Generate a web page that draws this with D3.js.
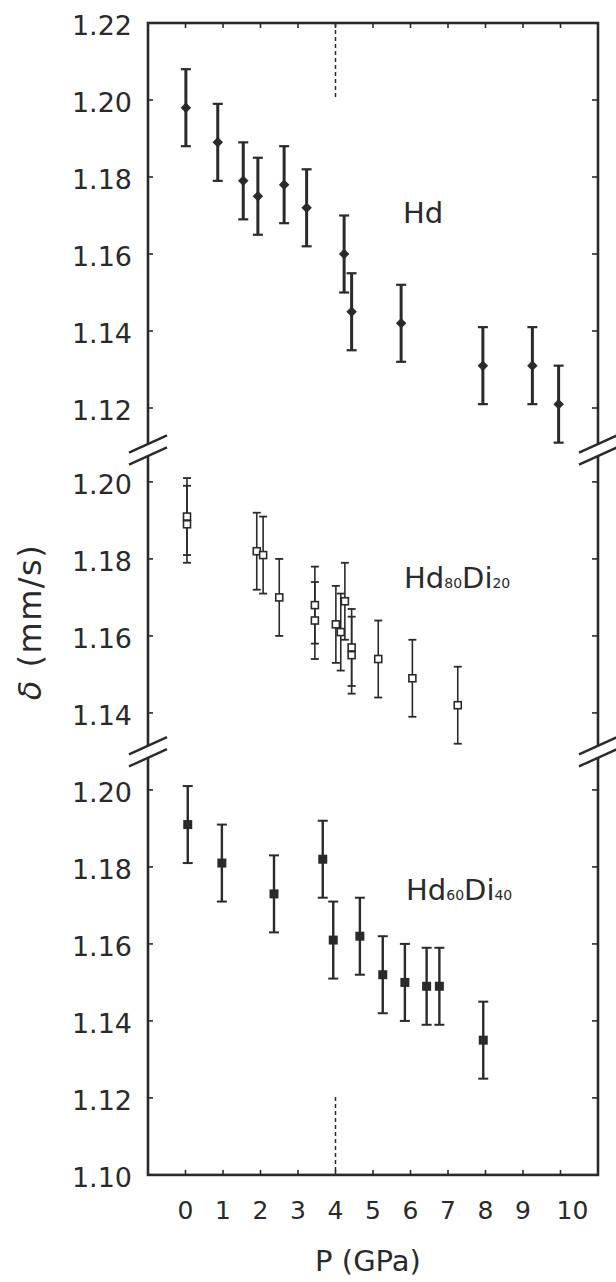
<!DOCTYPE html>
<html>
<head>
<meta charset="utf-8">
<title>delta vs P</title>
<script src="https://cdn.jsdelivr.net/npm/d3@7"></script>
<style>
    body { margin: 0; background: #fff; }
    svg { display: block; }
    text { font-family: "DejaVu Sans", sans-serif; fill: #2a2a2a; }
</style>
</head>
<body>
<svg id="chart" width="616" height="1282"></svg>
<script>

// Hd (filled diamonds)
var hdP = [0.01, 0.86, 1.54, 1.93, 2.63, 3.23, 4.23, 4.43, 5.75, 7.93, 9.25, 9.95],
    hdD = [1.198, 1.189, 1.179, 1.175, 1.178, 1.172, 1.160, 1.145, 1.142, 1.131, 1.131, 1.121];

// Hd80Di20 (open squares)
var mixP = [0.04, 0.04, 1.90, 2.07, 2.50, 3.45, 3.45, 4.01, 4.14, 4.25, 4.43, 4.43, 5.14, 6.05, 7.26],
    mixD = [1.191, 1.189, 1.182, 1.181, 1.170, 1.168, 1.164, 1.163, 1.161, 1.169, 1.157, 1.155, 1.154, 1.149, 1.142];

// Hd60Di40 (filled squares)
var hd60P = [0.06, 0.97, 2.36, 3.66, 3.94, 4.65, 5.26, 5.85, 6.43, 6.77, 7.94],
    hd60D = [1.191, 1.181, 1.173, 1.182, 1.161, 1.162, 1.152, 1.150, 1.149, 1.149, 1.135];

var errHalf = 0.01;

var xTicks = [0, 1, 2, 3, 4, 5, 6, 7, 8, 9, 10],
    topTicks = [1.12, 1.14, 1.16, 1.18, 1.20, 1.22],
    midTicks = [1.14, 1.16, 1.18, 1.20],
    botTicks = [1.10, 1.12, 1.14, 1.16, 1.18, 1.20];

var plotL = 148, plotR = 598, plotT = 23,
    pxPerUnit = 3850,
    ink = '#2a2a2a',
    svg = d3.select('#chart');

var x = d3.scaleLinear().domain([-1, 11]).range([plotL, plotR]);

// three stacked panels with the same vertical scale factor
var panels = [
    {name: 'Hd', domain: [1.1091, 1.22], ticks: topTicks, P: hdP, D: hdD, mark: 'diamond', bar: 3, cap: 10, capW: 2.2},
    {name: 'Hd80Di20', domain: [1.1299, 1.2083], ticks: midTicks, P: mixP, D: mixD, mark: 'open', bar: 1.6, cap: 8, capW: 1.8},
    {name: 'Hd60Di40', domain: [1.10, 1.2099], ticks: botTicks, P: hd60P, D: hd60D, mark: 'square', bar: 2.4, cap: 10, capW: 2}
];

var yAcc = plotT;
panels.forEach(function (p) {
    var h = (p.domain[1] - p.domain[0]) * pxPerUnit;
    p.y = d3.scaleLinear().domain(p.domain).range([yAcc + h, yAcc]);
    p.y0 = yAcc;
    p.y1 = yAcc + h;
    yAcc += h;
});
var plotB = yAcc;

// frame
svg.append('rect')
    .attr('x', plotL).attr('y', plotT)
    .attr('width', plotR - plotL).attr('height', plotB - plotT)
    .attr('fill', 'none').attr('stroke', ink).attr('stroke-width', 2.6);

// x ticks (inward, top and bottom)
var xt = svg.append('g').attr('stroke', ink).attr('stroke-width', 1.6);
xTicks.forEach(function (t) {
    xt.append('line').attr('x1', x(t)).attr('x2', x(t)).attr('y1', plotT).attr('y2', plotT + 5);
    xt.append('line').attr('x1', x(t)).attr('x2', x(t)).attr('y1', plotB).attr('y2', plotB - 5);
});

// tick labels: single digits centred, "10" starts at its tick
svg.append('g').selectAll('text')
    .data(xTicks)
    .enter().append('text')
    .attr('x', function (d) { return d < 10 ? x(d) : x(d) - 4; })
    .attr('y', 1219)
    .attr('text-anchor', function (d) { return d < 10 ? 'middle' : 'start'; })
    .attr('font-size', 25)
    .text(function (d) { return d; });

svg.append('text')
    .attr('x', 368).attr('y', 1271)
    .attr('text-anchor', 'middle')
    .attr('font-size', 29)
    .text('P (GPa)');

var ylab = svg.append('text')
    .attr('transform', 'translate(41,622) rotate(-90)')
    .attr('text-anchor', 'middle')
    .attr('font-size', 32)
    .attr('letter-spacing', 1.5);
ylab.append('tspan').attr('font-style', 'italic').text('δ');
ylab.append('tspan').text(' (mm/s)');

// dashed markers at 4 GPa
svg.append('line')
    .attr('x1', x(4)).attr('x2', x(4)).attr('y1', plotT).attr('y2', 98)
    .attr('stroke', ink).attr('stroke-width', 1.5).attr('stroke-dasharray', '4,3');
svg.append('line')
    .attr('x1', x(4)).attr('x2', x(4)).attr('y1', 1097).attr('y2', plotB)
    .attr('stroke', ink).attr('stroke-width', 1.5).attr('stroke-dasharray', '4,3');

panels.forEach(function (p) {
    var g = svg.append('g');

    // y ticks, left and right, pointing inward
    p.ticks.forEach(function (t) {
        g.append('line').attr('x1', plotL).attr('x2', plotL + 5)
            .attr('y1', p.y(t)).attr('y2', p.y(t))
            .attr('stroke', ink).attr('stroke-width', 1.6);
        g.append('line').attr('x1', plotR).attr('x2', plotR - 6)
            .attr('y1', p.y(t)).attr('y2', p.y(t))
            .attr('stroke', ink).attr('stroke-width', 1.6);
        g.append('text')
            .attr('x', 132).attr('y', p.y(t) + 12)
            .attr('text-anchor', 'end')
            .attr('font-size', 27)
            .text(t.toFixed(2));
    });

    var pts = p.P.map(function (v, i) { return {p: v, d: p.D[i]}; });

    // error bars
    var bars = g.selectAll('g.err').data(pts).enter().append('g')
        .attr('stroke', ink).attr('stroke-width', p.bar);
    bars.append('line')
        .attr('x1', function (d) { return x(d.p); })
        .attr('x2', function (d) { return x(d.p); })
        .attr('y1', function (d) { return p.y(d.d + errHalf); })
        .attr('y2', function (d) { return p.y(d.d - errHalf); });
    [errHalf, -errHalf].forEach(function (e) {
        bars.append('line')
            .attr('x1', function (d) { return x(d.p) - p.cap / 2; })
            .attr('x2', function (d) { return x(d.p) + p.cap / 2; })
            .attr('y1', function (d) { return p.y(d.d + e); })
            .attr('y2', function (d) { return p.y(d.d + e); })
            .attr('stroke-width', p.capW);
    });

    // markers
    if (p.mark === 'diamond') {
        g.selectAll('path.m').data(pts).enter().append('path')
            .attr('d', d3.symbol().type(d3.symbolSquare).size(55))
            .attr('transform', function (d) { return 'translate(' + x(d.p) + ',' + p.y(d.d) + ') rotate(45)'; })
            .attr('fill', ink);
    } else if (p.mark === 'open') {
        g.selectAll('rect.m').data(pts).enter().append('rect')
            .attr('x', function (d) { return x(d.p) - 3.5; })
            .attr('y', function (d) { return p.y(d.d) - 3.5; })
            .attr('width', 7).attr('height', 7)
            .attr('fill', '#fff').attr('stroke', ink).attr('stroke-width', 1.6);
    } else {
        g.selectAll('rect.m').data(pts).enter().append('rect')
            .attr('x', function (d) { return x(d.p) - 4.5; })
            .attr('y', function (d) { return p.y(d.d) - 4.5; })
            .attr('width', 9).attr('height', 9)
            .attr('fill', ink);
    }
});

// series labels
function seriesLabel(px, py, parts) {
    var t = svg.append('text').attr('x', px).attr('y', py).attr('font-size', 29);
    parts.forEach(function (s, i) {
        t.append('tspan').attr('font-size', i % 2 ? 14 : 29).text(s);
    });
}
seriesLabel(403, 223, ['Hd']);
seriesLabel(404, 588, ['Hd', '80', 'Di', '20']);
seriesLabel(406, 900, ['Hd', '60', 'Di', '40']);

// axis breaks between panels
[panels[0].y1, panels[1].y1].forEach(function (yb) {
    [plotL, plotR].forEach(function (xb) {
        var dx = 19, dy = 8.6, gap = 6;
        svg.append('polygon')
            .attr('points', [
                [xb - dx, yb - gap + dy], [xb + dx, yb - gap - dy],
                [xb + dx, yb + gap - dy], [xb - dx, yb + gap + dy]
            ].map(function (q) { return q.join(','); }).join(' '))
            .attr('fill', '#fff');
        [-gap, gap].forEach(function (o) {
            svg.append('line')
                .attr('x1', xb - dx).attr('y1', yb + o + dy)
                .attr('x2', xb + dx).attr('y2', yb + o - dy)
                .attr('stroke', ink).attr('stroke-width', 2.4);
        });
    });
});

</script>
</body>
</html>
